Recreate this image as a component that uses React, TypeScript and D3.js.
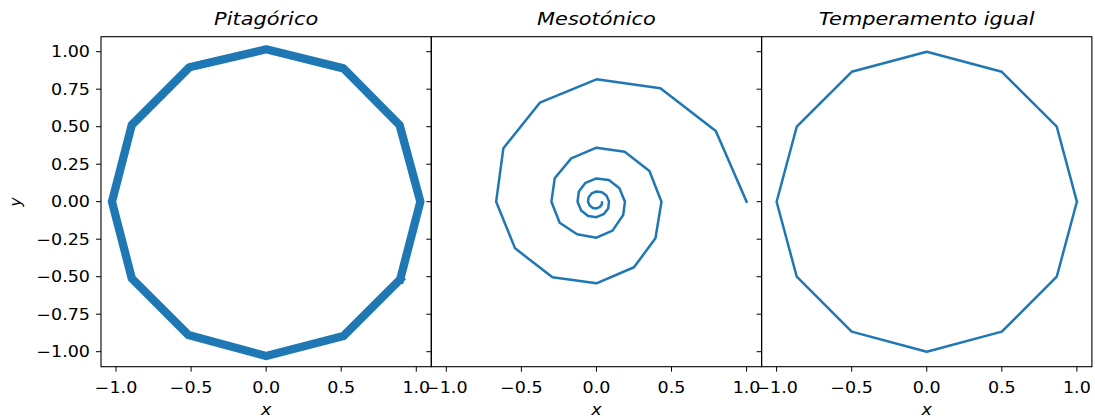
import React from 'react';
import * as d3 from 'd3';

type Pt = [number, number];

const titles: string[] = ['Pitagórico', 'Mesotónico', 'Temperamento igual'];

// Pythagorean: heavy overlapping polygon (read vertex centres)
const pitagorico: Pt[] = [
  [0.893, -0.517], [1.027, 0.0], [0.889, 0.511], [0.515, 0.889], [0.0, 1.016],
  [-0.511, 0.896], [-0.895, 0.511], [-1.027, 0.0], [-0.895, -0.511], [-0.518, -0.889],
  [0.0, -1.029], [0.515, -0.895], [0.893, -0.517],
];

// Meantone: shrinking spiral
const mesotonico: Pt[] = [
  [1.0, 0.0], [0.795, 0.471], [0.426, 0.756], [0.0, 0.816], [-0.377, 0.66], [-0.62, 0.356],
  [-0.668, 0.0], [-0.542, -0.311], [-0.293, -0.504], [0.0, -0.544], [0.25, -0.437], [0.393, -0.244],
  [0.433, 0.0], [0.353, 0.205], [0.188, 0.333], [0.0, 0.36], [-0.168, 0.289], [-0.278, 0.156],
  [-0.3, 0.0], [-0.245, -0.14], [-0.129, -0.217], [0.0, -0.24], [0.107, -0.193], [0.178, -0.089],
  [0.19, 0.0], [0.153, 0.089], [0.083, 0.144], [0.0, 0.155], [-0.073, 0.126], [-0.117, 0.068],
  [-0.126, 0.0], [-0.102, -0.059], [-0.055, -0.095], [0.0, -0.103], [0.048, -0.083], [0.078, -0.045],
  [0.084, 0.0], [0.068, 0.039], [0.037, 0.063], [0.0, 0.068], [-0.032, 0.055], [-0.052, 0.03],
  [-0.056, 0.0], [-0.045, -0.026], [-0.024, -0.042], [0.0, -0.045], [0.021, -0.036], [0.035, -0.02],
  [0.037, -0.005],
];

// Equal temperament: regular dodecagon
const igual: Pt[] = [
  [1.0, 0.0], [0.866, 0.5], [0.5, 0.866], [0.0, 1.0], [-0.5, 0.866], [-0.866, 0.5],
  [-1.0, 0.0], [-0.866, -0.5], [-0.5, -0.866], [0.0, -1.0], [0.5, -0.866], [0.866, -0.5],
  [1.0, 0.0],
];

const series: Pt[][] = [pitagorico, mesotonico, igual];
const lineWidths: number[] = [8.3, 2.5, 2.5];

const xTicks: number[] = [-1.0, -0.5, 0.0, 0.5, 1.0];
const yTicks: number[] = [-1.0, -0.75, -0.5, -0.25, 0.0, 0.25, 0.5, 0.75, 1.0];

const W = 1095;
const H = 420;
const panelLeft = 101;
const panelW = 330.3;
const top = 36.7;
const bottom = 366.7;
const color = '#1f77b4';
const font = 'DejaVu Sans, sans-serif';
const SX = 1.13;

function STxt(props: { x: number; y: number; children: React.ReactNode; anchor?: string; size: number; italic?: boolean; rotate?: number }) {
  const { x, y, children, anchor = 'middle', size, italic, rotate } = props;
  return (
    <g transform={`translate(${x},${y})${rotate ? ` rotate(${rotate})` : ''}`}>
      <text
        transform={rotate ? undefined : `scale(${SX},1)`}
        textAnchor={anchor as any}
        fontFamily={font}
        fontSize={size}
        fontStyle={italic ? 'italic' : 'normal'}
        fill="#000"
      >
        {children}
      </text>
    </g>
  );
}

export default function App() {
  const y = d3.scaleLinear().domain([-1.1, 1.1]).range([bottom, top]);
  const fmtX = d3.format('.1f');
  const fmtY = d3.format('.2f');

  return (
    <svg width={W} height={H} style={{ position: 'absolute', left: 0, top: 0, display: 'block', background: '#fff' }}>
      <rect x={0} y={0} width={W} height={H} fill="#fff" />
      {series.map((data, i) => {
        const x0 = panelLeft + i * panelW;
        const x = d3.scaleLinear().domain([-1.1, 1.1]).range([x0, x0 + panelW]);
        const line = d3.line<Pt>().x((d) => x(d[0])).y((d) => y(d[1]));
        return (
          <g key={i}>
            <defs>
              <clipPath id={`clip${i}`}>
                <rect x={x0} y={top} width={panelW} height={bottom - top} />
              </clipPath>
            </defs>
            <path
              d={line(data) || ''}
              fill="none"
              stroke={color}
              strokeWidth={lineWidths[i]}
              strokeLinejoin="round"
              strokeLinecap="square"
              clipPath={`url(#clip${i})`}
            />
            {yTicks.map((t) => (
              <line key={`yt${t}`} x1={x0 - 5} x2={x0} y1={y(t)} y2={y(t)} stroke="#000" strokeWidth={1} />
            ))}
            {xTicks.map((t) => (
              <g key={`xt${t}`}>
                <line x1={x(t)} x2={x(t)} y1={bottom} y2={bottom + 5} stroke="#000" strokeWidth={1} />
                <STxt x={x(t)} y={393} size={15.5}>{fmtX(t)}</STxt>
              </g>
            ))}
            <rect x={x0} y={top} width={panelW} height={bottom - top} fill="none" stroke="#000" strokeWidth={1.1} />
            <STxt x={x0 + panelW / 2} y={25} size={18.5} italic>{titles[i]}</STxt>
            <STxt x={x0 + panelW / 2} y={415} size={15.5} italic>x</STxt>
            {i === 0 &&
              yTicks.map((t) => (
                <STxt key={`yl${t}`} x={90} y={y(t) + 5.6} size={15.5} anchor="end">{fmtY(t)}</STxt>
              ))}
          </g>
        );
      })}
      <STxt x={21} y={202} size={15.5} italic rotate={-90}>y</STxt>
    </svg>
  );
}
